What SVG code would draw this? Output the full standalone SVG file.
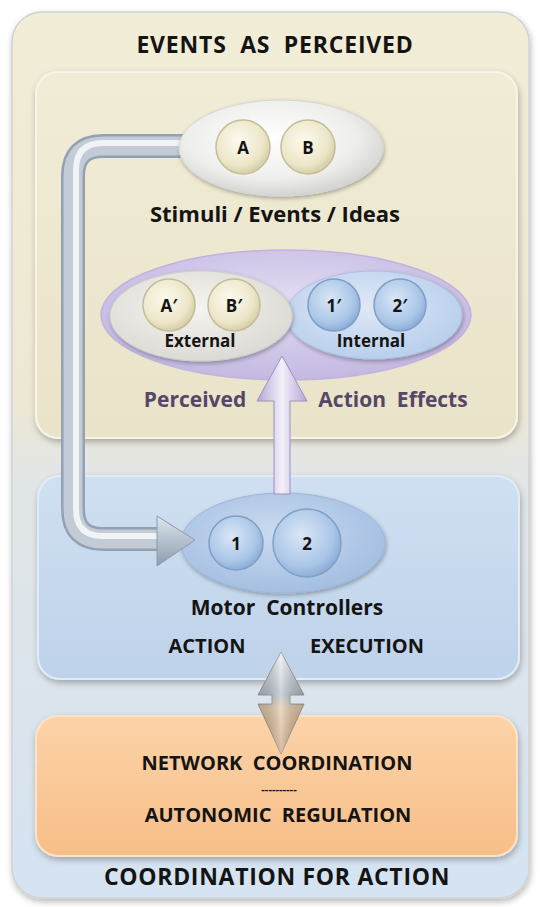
<svg xmlns="http://www.w3.org/2000/svg" width="541" height="907" viewBox="0 0 541 907">
<defs>
<style>
text{font-family:"Open Sans","Liberation Sans",sans-serif;font-weight:bold;fill:#141414;text-anchor:middle;white-space:pre}
.lbl{font-size:17px}
.pae{font-size:21px;fill:#564768}
.h{font-size:20px}
</style>
<filter id="sh" x="-10%" y="-10%" width="120%" height="125%"><feDropShadow dx="1" dy="3" stdDeviation="3" flood-color="#000" flood-opacity="0.28"/></filter>
<filter id="shs" x="-20%" y="-20%" width="140%" height="150%"><feDropShadow dx="1" dy="2" stdDeviation="2" flood-color="#000" flood-opacity="0.3"/></filter>
<linearGradient id="gOuter" x1="0" y1="0" x2="0" y2="1">
<stop offset="0" stop-color="#f2edd6"/><stop offset="0.44" stop-color="#ede8d3"/><stop offset="0.52" stop-color="#e2e6e6"/><stop offset="1" stop-color="#d5e3f2"/></linearGradient>
<linearGradient id="gCream" x1="0" y1="0" x2="0" y2="1"><stop offset="0" stop-color="#f1ecd6"/><stop offset="1" stop-color="#e9e3c9"/></linearGradient>
<linearGradient id="gBlue" x1="0" y1="0" x2="0" y2="1"><stop offset="0" stop-color="#d0e0f2"/><stop offset="1" stop-color="#bed2ea"/></linearGradient>
<linearGradient id="gOrange" x1="0" y1="0" x2="0" y2="1"><stop offset="0" stop-color="#fcd3a8"/><stop offset="1" stop-color="#f7be88"/></linearGradient>
<radialGradient id="gWhite" cx="0.45" cy="0.4" r="0.6"><stop offset="0" stop-color="#ffffff"/><stop offset="0.7" stop-color="#eeeeec"/><stop offset="1" stop-color="#d4d4d2"/></radialGradient>
<radialGradient id="gPurple" cx="0.5" cy="0.4" r="0.6"><stop offset="0" stop-color="#e4ddf3"/><stop offset="1" stop-color="#c4b8e1"/></radialGradient>
<radialGradient id="gExt" cx="0.45" cy="0.4" r="0.6"><stop offset="0" stop-color="#f6f5f1"/><stop offset="1" stop-color="#dcdad4"/></radialGradient>
<radialGradient id="gInt" cx="0.45" cy="0.4" r="0.6"><stop offset="0" stop-color="#dfe9f7"/><stop offset="1" stop-color="#b9cfec"/></radialGradient>
<radialGradient id="gMotor" cx="0.45" cy="0.4" r="0.6"><stop offset="0" stop-color="#cadbf0"/><stop offset="1" stop-color="#a5bfe2"/></radialGradient>
<radialGradient id="gCC" cx="0.42" cy="0.38" r="0.62"><stop offset="0" stop-color="#fcfaee"/><stop offset="0.75" stop-color="#ece6c8"/><stop offset="1" stop-color="#d6cfa8"/></radialGradient>
<radialGradient id="gBC" cx="0.42" cy="0.38" r="0.62"><stop offset="0" stop-color="#d9e7f7"/><stop offset="0.75" stop-color="#aac6e7"/><stop offset="1" stop-color="#8eaed8"/></radialGradient>
<linearGradient id="gPArrow" x1="0" y1="0" x2="1" y2="0"><stop offset="0" stop-color="#b4a6d6"/><stop offset="0.5" stop-color="#f3f0fa"/><stop offset="1" stop-color="#b4a6d6"/></linearGradient>
<linearGradient id="gDArrow" x1="0" y1="0" x2="0" y2="1"><stop offset="0" stop-color="#eceef2"/><stop offset="0.42" stop-color="#b3bbc7"/><stop offset="0.55" stop-color="#e2c6a6"/><stop offset="1" stop-color="#c29a70"/></linearGradient>
<linearGradient id="gDArrowH" x1="0" y1="0" x2="1" y2="0"><stop offset="0" stop-color="#000" stop-opacity="0.15"/><stop offset="0.5" stop-color="#fff" stop-opacity="0.35"/><stop offset="1" stop-color="#000" stop-opacity="0.15"/></linearGradient>
<linearGradient id="gPipeHead" x1="0" y1="0" x2="0" y2="1"><stop offset="0" stop-color="#dfe5ec"/><stop offset="0.5" stop-color="#b4c0cd"/><stop offset="1" stop-color="#8e9cad"/></linearGradient>
</defs>

<g id="coordination-for-action">
<rect x="12" y="12" width="517" height="886" rx="30" fill="url(#gOuter)" stroke="#cfd3cf" stroke-width="1.5" filter="url(#sh)"/>
<text x="275" y="53" style="font-size:23px;letter-spacing:0.8px">EVENTS  AS  PERCEIVED</text>
<text x="277" y="885" style="font-size:23px;letter-spacing:0.7px">COORDINATION FOR ACTION</text>
</g>

<g id="events-box">
<rect x="36" y="72" width="481" height="366" rx="22" fill="url(#gCream)" stroke="#f8f5e6" stroke-width="2" filter="url(#sh)"/>
</g>

<g id="action-execution">
<rect x="38" y="476" width="481" height="203" rx="22" fill="url(#gBlue)" stroke="#e2ecf7" stroke-width="2" filter="url(#sh)"/>
<text x="207" y="653" class="h">ACTION</text>
<text x="367" y="653" class="h">EXECUTION</text>
</g>

<g id="network-coordination">
<rect x="36" y="716" width="481" height="140" rx="22" fill="url(#gOrange)" stroke="#fde3c6" stroke-width="2" filter="url(#sh)"/>
<text x="277" y="770" class="h">NETWORK  COORDINATION</text>
<text x="279" y="793" style="font-size:11px">----------</text>
<text x="278" y="822" class="h">AUTONOMIC  REGULATION</text>
</g>

<g id="perceived-action-effects">
<ellipse cx="286" cy="315" rx="185" ry="65" fill="url(#gPurple)" stroke="#c0b3de" stroke-width="1.5"/>
<ellipse cx="374" cy="315" rx="88" ry="44" fill="url(#gInt)" stroke="#aac1e3" stroke-width="1" filter="url(#shs)"/>
<ellipse cx="201" cy="316" rx="91" ry="45" fill="url(#gExt)" stroke="#d0cec8" stroke-width="1" filter="url(#shs)"/>
<circle cx="169" cy="305" r="26" fill="url(#gCC)" stroke="#c4bd98" stroke-width="1.5"/>
<circle cx="234" cy="305" r="26" fill="url(#gCC)" stroke="#c4bd98" stroke-width="1.5"/>
<circle cx="334" cy="305" r="26" fill="url(#gBC)" stroke="#7f9fc8" stroke-width="1.5"/>
<circle cx="400" cy="305" r="26" fill="url(#gBC)" stroke="#7f9fc8" stroke-width="1.5"/>
<text x="169" y="312" class="lbl">A′</text>
<text x="234" y="312" class="lbl">B′</text>
<text x="334" y="312" class="lbl">1′</text>
<text x="400" y="312" class="lbl">2′</text>
<text x="200" y="347" class="lbl">External</text>
<text x="371" y="347" class="lbl">Internal</text>
<text x="195" y="407" class="pae">Perceived</text>
<text x="393" y="407" class="pae">Action  Effects</text>
</g>

<g id="motor-controllers">
<ellipse cx="283" cy="543" rx="102" ry="50" fill="url(#gMotor)" stroke="#9cb6da" stroke-width="1" filter="url(#shs)"/>
<circle cx="236" cy="543" r="27" fill="url(#gBC)" stroke="#7f9fc8" stroke-width="1.5"/>
<circle cx="307" cy="543" r="34" fill="url(#gBC)" stroke="#7f9fc8" stroke-width="1.5"/>
<text x="236" y="550" class="lbl">1</text>
<text x="307" y="550" class="lbl">2</text>
<text x="287" y="615" style="font-size:21px">Motor  Controllers</text>
</g>

<g id="connectors">
<g fill="none" stroke-linejoin="round">
<path d="M186 146 H103 Q73 146 73 176 V509 Q73 539 103 539 H160" stroke="#93a1b3" stroke-width="24"/>
<path d="M186 146 H103 Q73 146 73 176 V509 Q73 539 103 539 H160" stroke="#c2cbd6" stroke-width="19"/>
<path d="M186 143 H103 Q76 143 76 170 V509 Q76 536 103 536 H160" stroke="#f1f4f7" stroke-width="6"/>
</g>
<polygon points="157,516 195,540 157,566" fill="url(#gPipeHead)" stroke="#8d9bab" stroke-width="1"/>
<polygon points="274,494 274,401 257,401 282,356 307,401 290,401 290,494" fill="url(#gPArrow)" stroke="#9d90c4" stroke-width="1"/>
<polygon points="281,652 304,695 290,695 290,704 304,704 281,754 258,704 272,704 272,695 258,695" fill="url(#gDArrow)" stroke="#9a9690" stroke-width="1"/>
<polygon points="281,652 304,695 290,695 290,704 304,704 281,754 258,704 272,704 272,695 258,695" fill="url(#gDArrowH)"/>
</g>

<g id="stimuli-events-ideas">
<ellipse cx="281" cy="148" rx="102" ry="48" fill="url(#gWhite)" stroke="#d6d6d2" stroke-width="1" filter="url(#shs)"/>
<circle cx="243" cy="147" r="27" fill="url(#gCC)" stroke="#c4bd98" stroke-width="1.5"/>
<circle cx="308" cy="147" r="27" fill="url(#gCC)" stroke="#c4bd98" stroke-width="1.5"/>
<text x="243" y="154" class="lbl">A</text>
<text x="308" y="154" class="lbl">B</text>
<text x="275" y="222" style="font-size:22px">Stimuli / Events / Ideas</text>
</g>
</svg>
